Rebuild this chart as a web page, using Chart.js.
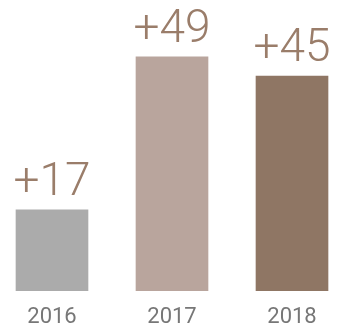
<!DOCTYPE html>
<html>
<head>
<meta charset="utf-8">
<script src="https://cdn.jsdelivr.net/npm/chart.js@4/dist/chart.umd.min.js"></script>
<style>
  html, body { margin: 0; padding: 0; background: #fff; }
  #wrap { width: 338px; height: 327px; position: relative; }
</style>
</head>
<body>
<div id="wrap"><canvas id="growthChart"></canvas></div>
<script>
const years = ["2016", "2017", "2018"];
const growth = [17, 49, 45];
const barColors = ["#ababab", "#b9a59d", "#8f7664"];

// value labels above bars + year labels under the baseline
const barLabels = {
  id: "barLabels",
  afterDatasetsDraw(chart) {
    const ctx = chart.ctx;
    const meta = chart.getDatasetMeta(0);
    const xScale = chart.scales.x;
    ctx.save();
    ctx.textAlign = "center";
    ctx.textBaseline = "alphabetic";
    meta.data.forEach((bar, i) => {
      ctx.font = "300 46px Roboto, 'Liberation Sans', sans-serif";
      ctx.fillStyle = "#9a7d6a";
      ctx.fillText("+" + growth[i], bar.x, bar.y - 15);

      ctx.font = "22px Roboto, 'Liberation Sans', sans-serif";
      ctx.fillStyle = "#777777";
      ctx.fillText(years[i], xScale.getPixelForValue(i), chart.chartArea.bottom + 32);
    });
    ctx.restore();
  },
};

new Chart(document.getElementById("growthChart"), {
  type: "bar",
  data: {
    datasets: [
      {
        data: growth.map((v, i) => ({ x: i, y: v })),
        backgroundColor: barColors,
        borderWidth: 0,
        barThickness: 72,
      },
    ],
  },
  options: {
    responsive: true,
    maintainAspectRatio: false,
    animation: false,
    layout: { padding: { left: 0, right: 0, top: 0, bottom: 36 } },
    plugins: { legend: { display: false }, tooltip: { enabled: false } },
    scales: {
      x: { type: "linear", offset: false, min: -0.4333, max: 2.3833, display: false },
      y: { min: 0, max: 60.9, display: false },
    },
  },
  plugins: [barLabels],
});
</script>
</body>
</html>
